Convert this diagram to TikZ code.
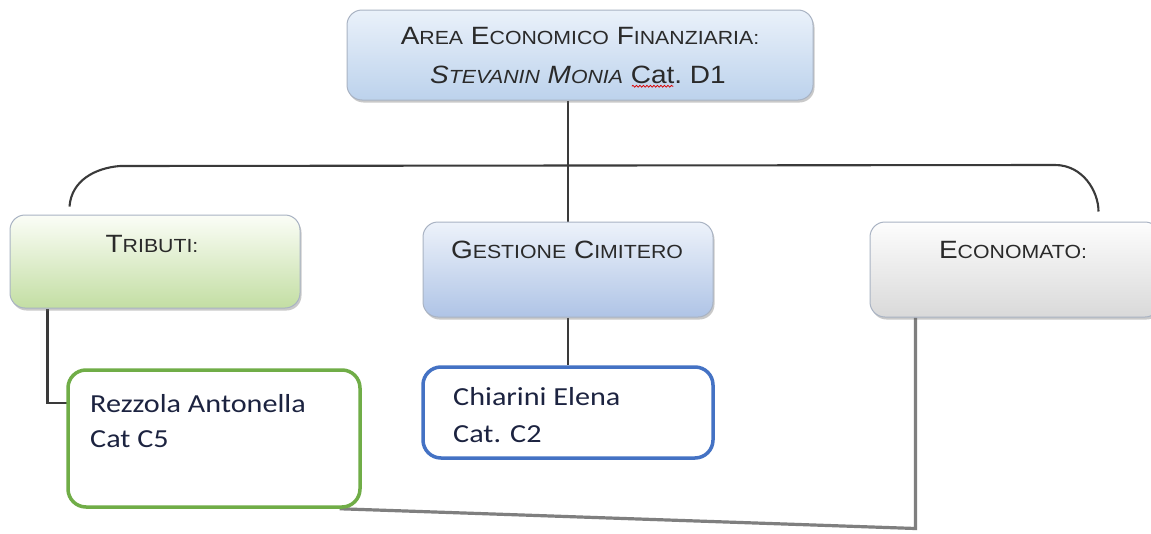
\documentclass[tikz,border=0pt]{standalone}
\usepackage{fontspec}
\setmainfont{Liberation Sans}[FakeStretch=1.12]
\newfontfamily\calib{Carlito}[FakeStretch=1.16]
\usetikzlibrary{calc,shadows,backgrounds,decorations.pathmorphing}
\definecolor{txtgray}{HTML}{2A2A2A}
\definecolor{conngray}{HTML}{3A3A3A}
\definecolor{ecoline}{HTML}{7F7F7F}
\definecolor{boxedge}{HTML}{A9B3C3}
\definecolor{navy}{HTML}{1C2340}
\definecolor{greenedge}{HTML}{70AD47}
\definecolor{blueedge}{HTML}{4472C4}
\definecolor{topA}{HTML}{EAF1FA}
\definecolor{topB}{HTML}{BCD2EC}
\definecolor{tribA}{HTML}{FBFDF7}
\definecolor{tribB}{HTML}{C3DEA3}
\definecolor{gestA}{HTML}{EDF2FA}
\definecolor{gestB}{HTML}{AFC4E6}
\definecolor{ecoA}{HTML}{FDFDFD}
\definecolor{ecoB}{HTML}{D9D9D9}
\newcommand\fsc[2]{{\fontsize{25}{30}\selectfont #1}{\fontsize{19}{22}\selectfont #2}}
\newcommand\spellerr[1]{\tikz[baseline=(sw.base)]{\node[inner sep=0pt,outer sep=0pt](sw){#1};
  \draw[red!85!black,line width=0.8pt,decorate,decoration={snake,amplitude=0.9pt,segment length=3.5pt}]
  ([yshift=-3pt,xshift=1pt]sw.south west) -- ([yshift=-3pt,xshift=-1pt]sw.south east);}}
\tikzset{
  titlebox/.style={draw=boxedge,line width=1pt,rounded corners=15pt,
    drop shadow={shadow xshift=1.5pt,shadow yshift=-2.5pt,opacity=0.35,fill=black!60},
    minimum width=#1,inner sep=0pt},
  personbox/.style={rounded corners=18pt,line width=3.5pt,fill=white,inner sep=0pt},
  titletext/.style={anchor=base,inner sep=0pt,text=txtgray,font=\fontsize{25}{30}\selectfont},
  nametext/.style={anchor=base west,inner sep=0pt,text=navy,font=\calib\fontsize{26}{36}\selectfont},
  conn/.style={draw=conngray,line width=2.1pt},
  ecoconn/.style={draw=ecoline,line width=3.2pt}
}
\begin{document}
\begin{tikzpicture}[x=1pt,y=-1pt]
\useasboundingbox (0,0) rectangle (1151,533);
\clip (0,0) rectangle (1151,533);

% boxes
\node[titlebox=466pt,minimum height=90pt,top color=topA,bottom color=topB] (top) at (580,55) {};
\node[titlebox=290pt,minimum height=93pt,top color=tribA,bottom color=tribB] (trib) at (155,261.5) {};
\node[titlebox=290pt,minimum height=95pt,top color=gestA,bottom color=gestB] (gest) at (568,269.5) {};
\node[titlebox=290pt,minimum height=95pt,top color=ecoA,bottom color=ecoB] (eco) at (1015,269.5) {};
\node[personbox,draw=greenedge,minimum width=292pt,minimum height=137pt] (rez) at (214,438.5) {};
\node[personbox,draw=blueedge,minimum width=290pt,minimum height=91pt] (chi) at (568,412.5) {};

% texts
\node[titletext] (t1) at (580,44) {\fsc{A}{REA} \fsc{E}{CONOMICO} \fsc{F}{INANZIARIA:}};
\node[titletext] (t2) at (578,83) {{\itshape\fsc{S}{TEVANIN} \fsc{M}{ONIA}} \spellerr{Cat}.\ D1};
\node[titletext] (ttrib) at (152,252) {\fsc{T}{RIBUTI:}};
\node[titletext] (tgest) at (567,258) {\fsc{G}{ESTIONE} \fsc{C}{IMITERO}};
\node[titletext] (teco) at (1013,258) {\fsc{E}{CONOMATO:}};
\node[nametext] (rez1) at (90,412) {Rezzola Antonella};
\node[nametext] (rez2) at (90,447) {Cat C5};
\node[nametext] (chi1) at (453,405) {Chiarini Elena};
\node[nametext] (chi2) at (453,442) {Cat. C2};

% connectors
\begin{scope}[on background layer]
\fill[white] (0,0) rectangle (1151,533);
\coordinate (hl) at (120,166);
\coordinate (hr) at (1055,165);
\draw[conn] (top.south -| gest.north) -- (gest.north);
\draw[conn] ($(trib.north west)+(60,-8)$) .. controls ($(trib.north west)+(62,-34)$) and ($(hl)+(-25,2)$) .. (hl) -- (hr)
  .. controls ($(hr)+(28,0)$) and ($(eco.north east)+(-62,-30)$) .. ($(eco.north east)+(-62,-10)$);
\draw[conn] ($(trib.south west)+(38,0)$) |- ($(rez.west)+(4,-35.5)$);
\draw[conn] (gest.south) -- (chi.north);
\draw[ecoconn] ($(eco.south west)+(46,0)$) -- ++(0,211) -- ($(rez.south east)+(-22,0)$);
\end{scope}
\end{tikzpicture}
\end{document}
